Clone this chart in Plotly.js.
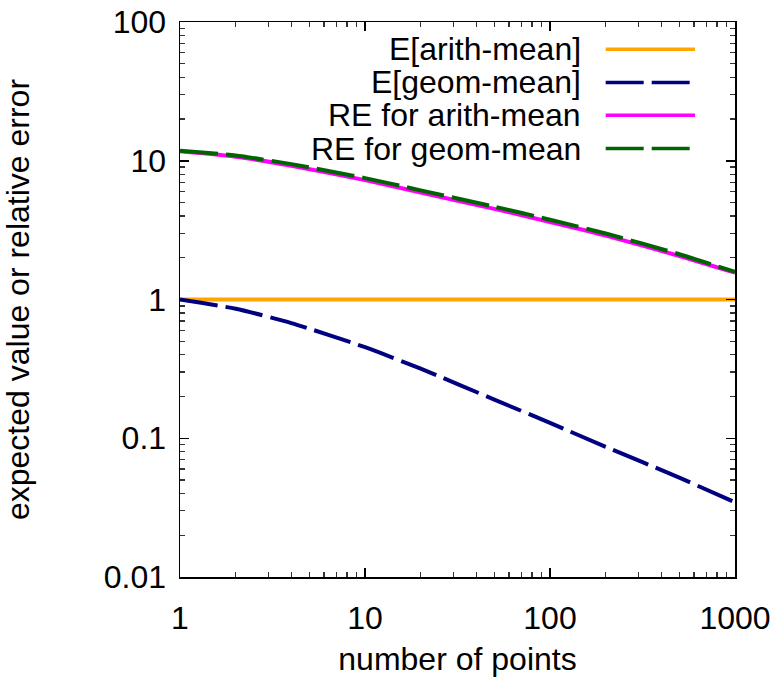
<!DOCTYPE html>
<html>
<head>
<meta charset="utf-8">
<script src="https://cdn.plot.ly/plotly-3.0.1.min.js"></script>
<style>
  html, body { margin: 0; padding: 0; background: #ffffff; }
  #chart { width: 779px; height: 678px; }
</style>
</head>
<body>
<div id="chart"></div>
<script>
// number of points (x)
const nPoints = [1, 2, 4, 10, 20, 50, 100, 200, 500, 1000];
// series values
const eArithMean = [1, 1, 1, 1, 1, 1, 1, 1, 1, 1];
const eGeomMean = [1, 0.857, 0.676, 0.453, 0.317, 0.190, 0.129, 0.0867, 0.052, 0.0345];
const reArithMean = [11.7, 10.7, 9.2, 7.25, 5.9, 4.5, 3.62, 2.89, 2.06, 1.56];
const reGeomMean = [11.8, 10.9, 9.46, 7.5, 6.12, 4.67, 3.76, 2.99, 2.12, 1.58];

const seriesNames = ["E[arith-mean]", "E[geom-mean]", "RE for arith-mean", "RE for geom-mean"];
const seriesColors = ["#ffa500", "#000080", "#ff00ff", "#006400"];
const seriesDash = ["solid", "38px,8px", "solid", "38px,8px"];

const xTickVals = [1, 10, 100, 1000];
const xTickText = ["1", "10", "100", "1000"];
const yTickVals = [0.01, 0.1, 1, 10, 100];
const yTickText = ["0.01", "0.1", "1", "10", "100"];
const xMinorVals = [2, 3, 4, 5, 6, 7, 8, 9, 20, 30, 40, 50, 60, 70, 80, 90, 200, 300, 400, 500, 600, 700, 800, 900];
const yMinorVals = [0.02, 0.03, 0.04, 0.05, 0.06, 0.07, 0.08, 0.09, 0.2, 0.3, 0.4, 0.5, 0.6, 0.7, 0.8, 0.9,
                    2, 3, 4, 5, 6, 7, 8, 9, 20, 30, 40, 50, 60, 70, 80, 90];

const FONT = "Liberation Sans, Arial, Helvetica, sans-serif";
const FS = 32;

const ys = [eArithMean, eGeomMean, reArithMean, reGeomMean];
const traces = ys.map((y, i) => ({
  type: "scatter",
  mode: "lines",
  x: nPoints,
  y: y,
  name: seriesNames[i],
  line: { color: seriesColors[i], width: 4, dash: seriesDash[i], shape: "spline", smoothing: 0.6 },
  showlegend: false,
  hoverinfo: "skip"
}));
// invisible trace to activate the minor-tick overlay axes
traces.push({
  type: "scatter", mode: "lines", x: [1], y: [1], xaxis: "x2", yaxis: "y2",
  line: { width: 0 }, showlegend: false, hoverinfo: "skip", opacity: 0
});

// custom legend: text right-aligned, sample line to the right
const legendRowsY = [0.951, 0.891, 0.832, 0.772];
const annotations = seriesNames.map((t, i) => ({
  xref: "paper", yref: "paper",
  x: 0.727, y: legendRowsY[i],
  xanchor: "right", yanchor: "middle",
  text: t, showarrow: false,
  font: { family: FONT, size: FS, color: "#000000" }
}));
const shapes = seriesNames.map((t, i) => ({
  type: "line", xref: "paper", yref: "paper",
  x0: 0.767, x1: 0.928, y0: legendRowsY[i], y1: legendRowsY[i],
  line: { color: seriesColors[i], width: 3.5, dash: seriesDash[i] }
}));

const axisCommon = {
  type: "log",
  showgrid: false,
  zeroline: false,
  showline: true,
  linecolor: "#000000",
  linewidth: 1.5,
  mirror: "allticks",
  ticks: "inside",
  ticklen: 9,
  tickwidth: 1.5,
  tickcolor: "#000000",
  tickfont: { family: FONT, size: FS, color: "#000000" },
  tickmode: "array"
};
const minorCommon = {
  type: "log",
  showgrid: false,
  zeroline: false,
  showline: false,
  mirror: "allticks",
  ticks: "inside",
  ticklen: 5,
  tickwidth: 1.3,
  tickcolor: "#333333",
  showticklabels: false,
  tickmode: "array"
};

const layout = {
  width: 779,
  height: 678,
  margin: { l: 180, r: 44, t: 22, b: 101, pad: 0 },
  paper_bgcolor: "#ffffff",
  plot_bgcolor: "#ffffff",
  font: { family: FONT, size: FS, color: "#000000" },
  showlegend: false,
  xaxis: Object.assign({}, axisCommon, {
    range: [0, 3],
    tickvals: xTickVals,
    ticktext: xTickText,
    ticklabelstandoff: 12,
    title: { text: "number of points", font: { family: FONT, size: FS }, standoff: 12 }
  }),
  yaxis: Object.assign({}, axisCommon, {
    range: [-2, 2],
    tickvals: yTickVals,
    ticktext: yTickText,
    ticklabelstandoff: 6,
    title: { text: "expected value or relative error", font: { family: FONT, size: FS }, standoff: 64 }
  }),
  xaxis2: Object.assign({}, minorCommon, { range: [0, 3], overlaying: "x", anchor: "y2", side: "bottom", tickvals: xMinorVals }),
  yaxis2: Object.assign({}, minorCommon, { range: [-2, 2], overlaying: "y", anchor: "x2", side: "left", tickvals: yMinorVals }),
  annotations: annotations,
  shapes: shapes
};

Plotly.newPlot("chart", traces, layout, { staticPlot: true, displayModeBar: false });
</script>
</body>
</html>
